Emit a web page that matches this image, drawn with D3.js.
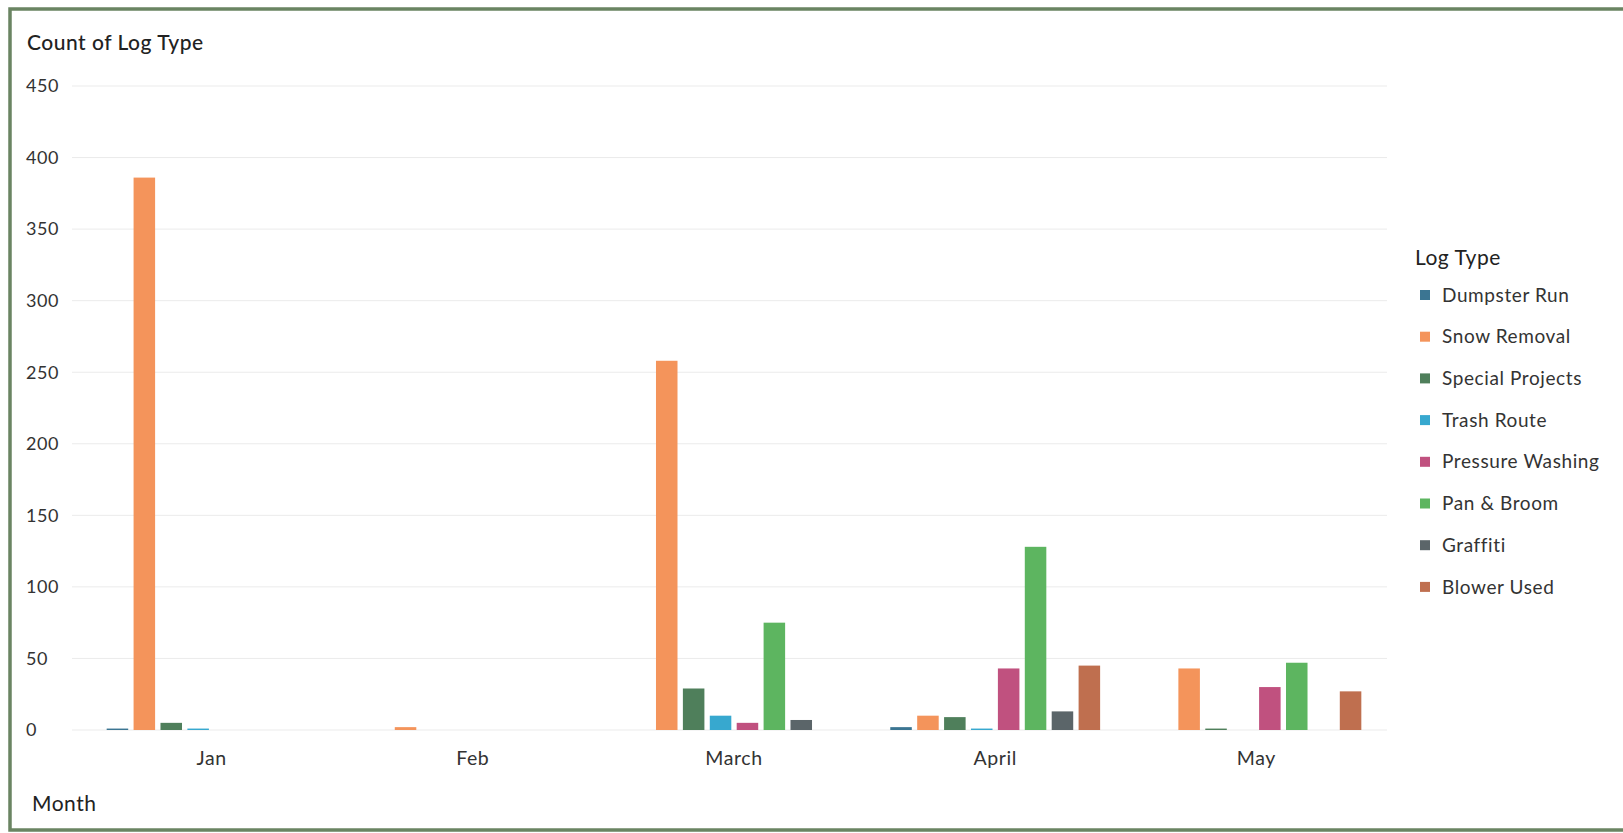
<!DOCTYPE html>
<html><head><meta charset="utf-8">
<script src="https://cdn.jsdelivr.net/npm/d3@7/dist/d3.min.js"></script>
<style>body{margin:0;background:#fff;}svg{display:block;font-family:Lato,"Open Sans",sans-serif;}</style>
</head><body>
<svg id="c" width="1623" height="833"></svg>
<script>
const months = ["Jan","Feb","March","April","May"];
const seriesNames = ["Dumpster Run","Snow Removal","Special Projects","Trash Route","Pressure Washing","Pan & Broom","Graffiti","Blower Used"];
const seriesColors = ["#3b7592","#f4945b","#4f7f5b","#37a8cf","#c0517f","#5db560","#5b6569","#bf6f4f"];
const dumpsterRun     = [1, 0, 0, 2, 0];
const snowRemoval     = [386, 2, 258, 10, 43];
const specialProjects = [5, 0, 29, 9, 1];
const trashRoute      = [1, 0, 10, 1, 0];
const pressureWashing = [0, 0, 5, 43, 30];
const panBroom        = [0, 0, 75, 128, 47];
const graffiti        = [0, 0, 7, 13, 0];
const blowerUsed      = [0, 0, 0, 45, 27];
const yTicks = [0,50,100,150,200,250,300,350,400,450];

const seriesValues = [dumpsterRun, snowRemoval, specialProjects, trashRoute, pressureWashing, panBroom, graffiti, blowerUsed];
const svg = d3.select("#c");

// frame
svg.append("rect").attr("x",10).attr("y",9).attr("width",1650).attr("height",821)
  .attr("fill","#fff").attr("stroke","#6a8462").attr("stroke-width",3.5);

const y = d3.scaleLinear().domain([0,450]).range([730,86]);
const x0 = d3.scaleBand().domain(months).range([81,1387]).paddingInner(0.176).paddingOuter(0.088);
const x1 = d3.scaleBand().domain(seriesNames).range([0,x0.bandwidth()]).paddingInner(0.2).paddingOuter(0.1);

// gridlines
svg.append("g").selectAll("line").data(yTicks).join("line")
  .attr("x1",72).attr("x2",1387).attr("y1",d=>y(d)).attr("y2",d=>y(d))
  .attr("stroke","#ebebeb").attr("stroke-width",1);

// y tick labels
svg.append("g").selectAll("text").data(yTicks).join("text")
  .attr("x",26).attr("y",d=>y(d)).attr("dy","0.35em")
  .attr("font-size",18).attr("letter-spacing",0.6).attr("fill","#333").text(d=>d);

// bars
const groups = svg.append("g").selectAll("g").data(months).join("g")
  .attr("transform",m=>`translate(${x0(m)},0)`);
groups.selectAll("rect").data((m,mi)=>seriesNames.map((s,si)=>({s,si,v:seriesValues[si][mi]})))
  .join("rect")
  .attr("x",d=>x1(d.s)).attr("width",x1.bandwidth())
  .attr("y",d=>y(d.v)).attr("height",d=>y(0)-y(d.v))
  .attr("fill",d=>seriesColors[d.si]);

// x labels
svg.append("g").selectAll("text").data(months).join("text")
  .attr("x",m=>x0(m)+x0.bandwidth()/2).attr("y",758).attr("dy","0.35em")
  .attr("text-anchor","middle").attr("font-size",19.5).attr("letter-spacing",0.6)
  .attr("fill","#333").text(m=>m);

// titles
svg.append("text").attr("x",27).attr("y",43).attr("dy","0.35em").attr("font-size",21)
  .attr("letter-spacing",0.5).attr("font-weight",500).attr("fill","#222").text("Count of Log Type");
svg.append("text").attr("x",32).attr("y",804).attr("dy","0.35em").attr("font-size",21)
  .attr("letter-spacing",0.5).attr("fill","#222").text("Month");

// legend
const lg = svg.append("g");
lg.append("text").attr("x",1415).attr("y",258).attr("dy","0.35em").attr("font-size",21)
  .attr("letter-spacing",0.5).attr("fill","#222").text("Log Type");
const li = lg.selectAll("g").data(seriesNames).join("g")
  .attr("transform",(d,i)=>`translate(1420,${295+i*41.7})`);
li.append("rect").attr("x",0).attr("y",-5).attr("width",10).attr("height",10)
  .attr("fill",(d,i)=>seriesColors[i]);
li.append("text").attr("x",22).attr("y",0).attr("dy","0.35em").attr("font-size",19)
  .attr("letter-spacing",0.6).attr("fill","#333").text(d=>d);
</script>
</body></html>
